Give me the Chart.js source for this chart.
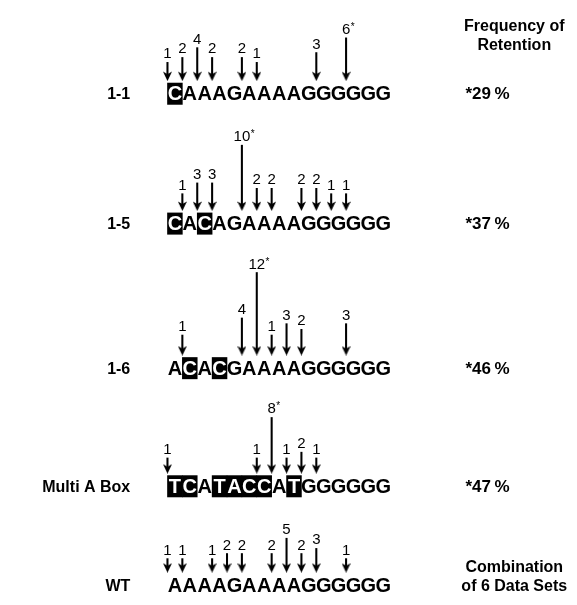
<!DOCTYPE html>
<html>
<head>
<meta charset="utf-8">
<script src="https://cdn.jsdelivr.net/npm/chart.js@4.4.0/dist/chart.umd.min.js"></script>
<style>
  body { margin: 0; background: #fff; }
  canvas { display: block; }
</style>
</head>
<body>
<canvas id="seqChart" width="577" height="605"></canvas>
<script>
// data
const rowNames = ['1-1', '1-5', '1-6', 'Multi A Box', 'WT'];
const sequences = [
  'CAAAGAAAAGGGGGG',
  'CACAGAAAAGGGGGG',
  'ACACGAAAAGGGGGG',
  'TCATACCATGGGGGG',
  'AAAAGAAAAGGGGGG'
];
// letters printed white on black
const boxed = [[0], [0, 2], [1, 3], [0, 1, 3, 4, 5, 6, 8], []];
// arrow sites, in letter units (between letters)
const sitePos = [
  [-0.5, 0.5, 1.5, 2.5, 4.5, 5.5, 9.5, 11.5],
  [0.5, 1.5, 2.5, 4.5, 5.5, 6.5, 8.5, 9.5, 10.5, 11.5],
  [0.5, 4.5, 5.5, 6.5, 7.5, 8.5, 11.5],
  [-0.5, 5.5, 6.5, 7.5, 8.5, 9.5],
  [-0.5, 0.5, 2.5, 3.5, 4.5, 6.5, 7.5, 8.5, 9.5, 11.5]
];
const siteCounts = [
  [1, 2, 4, 2, 2, 1, 3, 6],
  [1, 3, 3, 10, 2, 2, 2, 2, 1, 1],
  [1, 4, 12, 1, 3, 2, 3],
  [1, 1, 8, 1, 2, 1],
  [1, 1, 1, 2, 2, 2, 5, 2, 3, 1]
];
const starredSite = [11.5, 4.5, 5.5, 6.5, null];
const retention = ['*29\u2009%', '*37\u2009%', '*46\u2009%', '*47\u2009%'];
const headerTop = ['Frequency of', 'Retention'];
const headerBottom = ['Combination', 'of 6 Data Sets'];

// layout
const W = 577, H = 605;
const letterStep = 15.2, firstLetterPx = 172.5;
const rowY = [89.5, 222, 369.5, 490, 591];
const tipGap = 13;                    // arrow tip above letter centre
const stemBase = [14, 12, 15, 10, 9];  // arrow length = base + per * count
const stemPer = [5, 5.5, 5.8, 5.9, 5.2];

// arrowhead drawn once, used as point style
const head = document.createElement('canvas');
head.width = 9; head.height = 10;
let hc = head.getContext('2d');
hc.beginPath();
hc.moveTo(0, 0.5);
hc.lineTo(4.5, 3);
hc.lineTo(9, 0.5);
hc.lineTo(4.5, 10);
hc.closePath();
hc.fillStyle = '#000';
hc.fill();

let arrowBars = [];
let arrowHeads = [];
let arrowLabels = [];
sitePos.forEach(function(row, r) {
  row.forEach(function(p, k) {
    let tip = rowY[r] - tipGap;
    let top = tip - stemBase[r] - stemPer[r] * siteCounts[r][k];
    arrowBars.push({x: p, y: [top, tip - 5]});
    arrowHeads.push({x: p, y: tip - 5});
    arrowLabels.push({x: p, y: top, n: siteCounts[r][k], star: starredSite[r] === p});
  });
});

const seqText = {
  id: 'seqText',
  afterDatasetsDraw(chart) {
    const ctx = chart.ctx;
    const xs = chart.scales.x, ys = chart.scales.y;
    ctx.save();

    // sequences with boxed letters
    sequences.forEach(function(seq, r) {
      let cy = ys.getPixelForValue(rowY[r]);
      ctx.fillStyle = '#000';
      boxed[r].forEach(function(i) {
        let l = xs.getPixelForValue(i - 0.5);
        let rr = xs.getPixelForValue(i + 0.5);
        ctx.fillRect(l - 0.3, cy - 11, rr - l + 0.6, 22);
      });
      ctx.font = 'bold 20px "Liberation Sans", Arial, sans-serif';
      ctx.textAlign = 'center';
      ctx.textBaseline = 'middle';
      for (let i = 0; i < seq.length; i++) {
        ctx.fillStyle = boxed[r].indexOf(i) >= 0 ? '#fff' : '#000';
        ctx.fillText(seq[i], xs.getPixelForValue(i), cy + 1);
      }

      // row name
      ctx.fillStyle = '#000';
      ctx.font = 'bold 16px "Liberation Sans", Arial, sans-serif';
      ctx.textAlign = 'right';
      ctx.fillText(rowNames[r], xs.getPixelForValue(-3), cy + 1);

      // retention
      if (retention[r]) {
        ctx.font = 'bold 17px "Liberation Sans", Arial, sans-serif';
        ctx.textAlign = 'center';
        ctx.fillText(retention[r], xs.getPixelForValue(21), cy + 1);
      }
    });

    // counts above arrows
    ctx.fillStyle = '#000';
    ctx.textBaseline = 'alphabetic';
    arrowLabels.forEach(function(a) {
      let px = xs.getPixelForValue(a.x);
      let py = ys.getPixelForValue(a.y) - 4;
      ctx.font = '15px "Liberation Sans", Arial, sans-serif';
      ctx.textAlign = 'center';
      ctx.fillText(String(a.n), px, py);
      if (a.star) {
        let w = ctx.measureText(String(a.n)).width;
        ctx.font = '10px "Liberation Sans", Arial, sans-serif';
        ctx.textAlign = 'left';
        ctx.fillText('*', px + w / 2 + 0.5, py - 4);
      }
    });

    // right column headings
    ctx.font = 'bold 16px "Liberation Sans", Arial, sans-serif';
    ctx.textAlign = 'center';
    ctx.textBaseline = 'middle';
    let hx = xs.getPixelForValue(22.8);
    ctx.fillText(headerTop[0], hx, ys.getPixelForValue(21));
    ctx.fillText(headerTop[1], hx, ys.getPixelForValue(40));
    ctx.fillText(headerBottom[0], hx, ys.getPixelForValue(573));
    ctx.fillText(headerBottom[1], hx, ys.getPixelForValue(592));

    ctx.restore();
  }
};

const myChart = new Chart(document.getElementById('seqChart'), {
  type: 'bar',
  data: {
    datasets: [{
      label: 'stems',
      data: arrowBars,
      backgroundColor: '#000',
      barThickness: 1.4,
      borderWidth: 0
    }, {
      type: 'scatter',
      label: 'heads',
      data: arrowHeads,
      pointStyle: head,
      radius: 5
    }]
  },
  options: {
    responsive: false,
    animation: false,
    devicePixelRatio: 1,
    layout: { padding: 0 },
    plugins: { legend: { display: false }, tooltip: { enabled: false } },
    scales: {
      x: {
        type: 'linear',
        display: false,
        offset: false,
        min: -firstLetterPx / letterStep,
        max: (W - firstLetterPx) / letterStep
      },
      y: {
        type: 'linear',
        display: false,
        reverse: true,
        min: 0,
        max: H
      }
    }
  },
  plugins: [seqText]
});
</script>
</body>
</html>
